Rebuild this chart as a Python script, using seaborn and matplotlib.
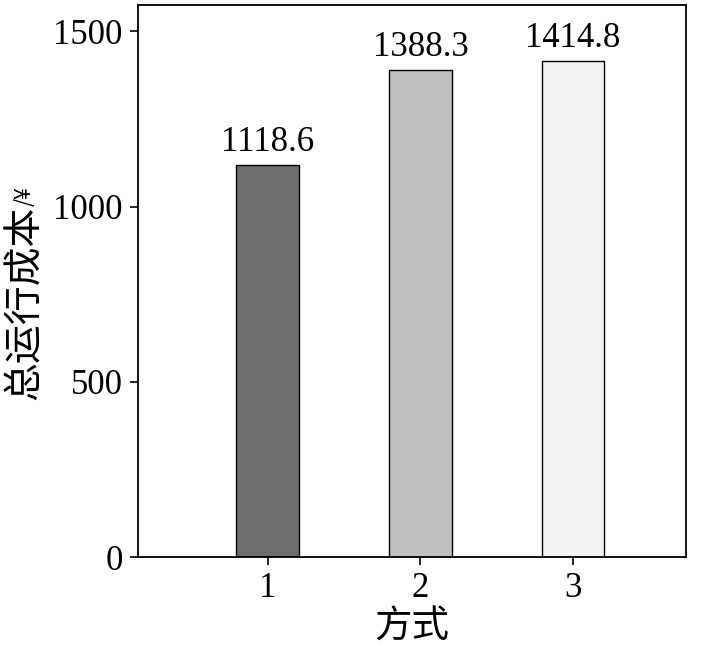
import matplotlib
matplotlib.use("Agg")
import matplotlib.pyplot as plt
import seaborn as sns
import pandas as pd

categories = ["1", "2", "3"]
values = [1118.6, 1388.3, 1414.8]
colors = ["#6e6e6e", "#c0c0c0", "#f2f2f2"]
xlabel = "方式"
ylabel_main = "总运行成本"
ylabel_unit = "/¥"

sns.set_theme(style="ticks")
plt.rcParams['font.family'] = ['Liberation Serif', 'Noto Sans CJK SC']
plt.rcParams['text.color'] = 'black'
plt.rcParams['axes.labelcolor'] = 'black'

df = pd.DataFrame({"cat": categories, "val": values})

fig = plt.figure(figsize=(7.04, 6.46), dpi=100)
ax = fig.add_axes([138/704, 1-557/646, (686-138)/704, (557-5)/646])

sns.barplot(data=df, x="cat", y="val", hue="cat", palette=colors, legend=False,
            width=0.41, edgecolor="black", linewidth=1.0, ax=ax)

for i, v in enumerate(values):
    ax.text(i, v + 18, f"{v:.1f}", ha="center", va="bottom", fontsize=25,
            family="Liberation Serif", color="black")

ax.set_xlim(-0.85, 2.74)
ax.set_ylim(0, 1575)
ax.set_yticks([0, 500, 1000, 1500])
ax.tick_params(axis="both", direction="out", length=6, width=1.2, labelsize=25,
               colors="black", pad=5)
for lab in ax.get_xticklabels() + ax.get_yticklabels():
    lab.set_family("Liberation Serif")
for s in ax.spines.values():
    s.set_visible(True)
    s.set_linewidth(1.3)
    s.set_color("black")

ax.set_xlabel(xlabel, fontsize=27, family=["Noto Sans CJK SC", "DejaVu Sans"], labelpad=2)
ax.set_ylabel("")

t = fig.text(25/704, 1-400/646, ylabel_main, rotation=90, ha="center", va="bottom",
             fontsize=28, family=["Noto Sans CJK SC", "DejaVu Sans"])
ax.annotate(ylabel_unit, xy=(0.5, 1.0), xycoords=t, rotation=90, ha="center", va="bottom",
            fontsize=15, family=["Noto Sans CJK SC", "DejaVu Sans"], annotation_clip=False)

fig.savefig("out.png", dpi=100)
